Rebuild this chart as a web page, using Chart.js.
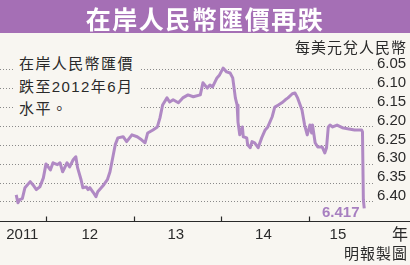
<!DOCTYPE html>
<html>
<head>
<meta charset="utf-8">
<script src="https://cdn.jsdelivr.net/npm/chart.js@4"></script>
<style>
  html, body { margin: 0; padding: 0; }
  body { width: 410px; height: 265px; background: #f8f6f1; position: relative; overflow: hidden;
         font-family: "Liberation Sans", "Noto Sans CJK TC", sans-serif; color: #2a2a2a; }
  #grafica { position: absolute; left: 0; top: 0; }
  .texto { position: absolute; z-index: 2; white-space: nowrap; }
  #titulo { left: 0; top: 0; width: 410px; height: 33px; background: #a56fb5; color: #fff;
            font: bold 25px "Noto Sans CJK TC", sans-serif; letter-spacing: 1.5px;
            text-align: center; line-height: 37px; }
  #unidad { right: 3px; top: 38px; font-size: 15px; letter-spacing: 1px; line-height: 20px; }
  #nota { left: 15px; top: 53px; width: 125px; height: 67px; background: #f8f6f1;
          font-size: 15px; letter-spacing: 1.4px; line-height: 22.5px; padding-left: 4px; box-sizing: border-box; }
  #ultimo { left: 322px; top: 203px; color: #a77fc0; font: bold 15px "Liberation Sans", sans-serif; }
  #anio { left: 392px; top: 225px; font-size: 16px; line-height: 20px; }
  #credito { right: 2px; top: 244px; font-size: 15px; letter-spacing: 1px; line-height: 20px; }
</style>
</head>
<body>
<canvas id="grafica" width="410" height="265"></canvas>
<div class="texto" id="titulo">在岸人民幣匯價再跌</div>
<div class="texto" id="unidad">每美元兌人民幣</div>
<div class="texto" id="nota">在岸人民幣匯價<br>跌至2012年6月<br>水平。</div>
<div class="texto" id="ultimo">6.417</div>
<div class="texto" id="anio">年</div>
<div class="texto" id="credito">明報製圖</div>
<script>
// =============================================
// DATOS
// =============================================

// fecha en años decimales
const fechas = [
  2011.66, 2011.68, 2011.70, 2011.73, 2011.76, 2011.82, 2011.85, 2011.89, 2011.93, 2011.97,
  2012.00, 2012.05, 2012.08, 2012.13, 2012.16, 2012.19, 2012.24, 2012.27, 2012.31, 2012.34,
  2012.36, 2012.40, 2012.42, 2012.46, 2012.48, 2012.50, 2012.54, 2012.57, 2012.59, 2012.63,
  2012.66, 2012.70, 2012.73, 2012.79, 2012.82, 2012.88, 2012.92, 2012.98, 2013.04, 2013.09,
  2013.13, 2013.16, 2013.22, 2013.27, 2013.30, 2013.33, 2013.38, 2013.41, 2013.45, 2013.51,
  2013.56, 2013.62, 2013.68, 2013.76, 2013.79, 2013.84, 2013.87, 2013.90, 2013.95, 2013.98,
  2014.02, 2014.06, 2014.10, 2014.13, 2014.16, 2014.18, 2014.19, 2014.21, 2014.24, 2014.25,
  2014.29, 2014.30, 2014.33, 2014.35, 2014.38, 2014.42, 2014.46, 2014.50, 2014.53, 2014.58,
  2014.61, 2014.65, 2014.69, 2014.73, 2014.76, 2014.81, 2014.84, 2014.87, 2014.92, 2014.95,
  2014.98, 2015.01, 2015.03, 2015.04, 2015.07, 2015.10, 2015.15, 2015.18, 2015.20, 2015.22,
  2015.24, 2015.27, 2015.32, 2015.38, 2015.44, 2015.52, 2015.60, 2015.61, 2015.62, 2015.63
];

// cuántos yuanes por dólar
const tipos = [
  6.381, 6.402, 6.394, 6.391, 6.362, 6.346, 6.354, 6.367, 6.360, 6.336,
  6.299, 6.315, 6.296, 6.301, 6.296, 6.320, 6.296, 6.307, 6.288, 6.280,
  6.309, 6.341, 6.362, 6.360, 6.367, 6.362, 6.375, 6.386, 6.373, 6.362,
  6.354, 6.341, 6.320, 6.248, 6.230, 6.227, 6.240, 6.222, 6.227, 6.235,
  6.243, 6.217, 6.209, 6.201, 6.177, 6.143, 6.124, 6.135, 6.129, 6.137,
  6.124, 6.116, 6.121, 6.116, 6.084, 6.098, 6.090, 6.095, 6.071, 6.063,
  6.045, 6.055, 6.058, 6.071, 6.124, 6.143, 6.188, 6.222, 6.201, 6.227,
  6.230, 6.248, 6.256, 6.240, 6.243, 6.256, 6.230, 6.209, 6.201, 6.174,
  6.148, 6.143, 6.137, 6.129, 6.124, 6.113, 6.111, 6.124, 6.156, 6.196,
  6.222, 6.196, 6.217, 6.196, 6.243, 6.254, 6.254, 6.270, 6.256, 6.201,
  6.196, 6.201, 6.196, 6.203, 6.206, 6.209, 6.209, 6.214, 6.394, 6.417
];

const ticksY = [6.05, 6.10, 6.15, 6.20, 6.25, 6.30, 6.35, 6.40];
const etiquetasX = ["2011", "12", "13", "14", "15"];
const posicionesX = [2011.73, 2012.50, 2013.48, 2014.48, 2015.33];
const limitesAnios = [2012, 2013, 2014, 2015];

// =============================================
// EJE X (línea y marcas hacia arriba)
// =============================================

const ejeX = {
  id: "ejeX",
  afterDraw(chart) {
    const ctx = chart.ctx;
    const area = chart.chartArea;
    const x = chart.scales.x;
    const y = Math.round(area.bottom) + 0.5;
    ctx.save();
    ctx.strokeStyle = "#2a2a2a";
    ctx.lineWidth = 1.2;
    ctx.beginPath();
    ctx.moveTo(0, y);
    ctx.lineTo(chart.width, y);
    limitesAnios.forEach((a) => {
      const px = Math.round(x.getPixelForValue(a)) + 0.5;
      ctx.moveTo(px, y);
      ctx.lineTo(px, y - 5);
    });
    ctx.stroke();
    ctx.restore();
  }
};

// =============================================
// GRÁFICA
// =============================================

new Chart(document.getElementById("grafica"), {
  type: "line",
  data: {
    datasets: [
      {
        data: fechas.map((f, i) => ({ x: f, y: tipos[i] })),
        borderColor: "#b089c4",
        borderWidth: 3,
        borderJoinStyle: "round",
        pointRadius: 0,
        tension: 0,
        fill: false
      }
    ]
  },
  options: {
    responsive: false,
    animation: false,
    layout: { padding: { top: 52, left: 0, right: 0, bottom: 0 } },
    plugins: { legend: { display: false }, tooltip: { enabled: false } },
    scales: {
      x: {
        type: "linear",
        position: "bottom",
        min: 2011.4753,
        max: 2015.730,
        afterFit: (s) => { s.height = 44; },
        afterBuildTicks: (s) => { s.ticks = posicionesX.map((v) => ({ value: v })); },
        grid: { display: false, drawTicks: false },
        border: { display: false },
        ticks: {
          autoSkip: false,
          maxRotation: 0,
          padding: 5,
          color: "#2a2a2a",
          font: { family: "Liberation Sans", size: 15 },
          callback: (v, i) => etiquetasX[i]
        }
      },
      y: {
        type: "linear",
        position: "right",
        reverse: true,
        min: 6.0023,
        max: 6.4504,
        afterFit: (s) => { s.width = 37; },
        afterBuildTicks: (s) => { s.ticks = ticksY.map((v) => ({ value: v })); },
        grid: { color: "#8a8a8a", lineWidth: 1, drawTicks: false },
        border: { display: false, dash: [1, 2] },
        ticks: {
          padding: 4,
          labelOffset: -6,
          color: "#2a2a2a",
          font: { family: "Liberation Sans", size: 15 },
          callback: (v) => v.toFixed(2)
        }
      }
    }
  },
  plugins: [ejeX]
});
</script>
</body>
</html>
